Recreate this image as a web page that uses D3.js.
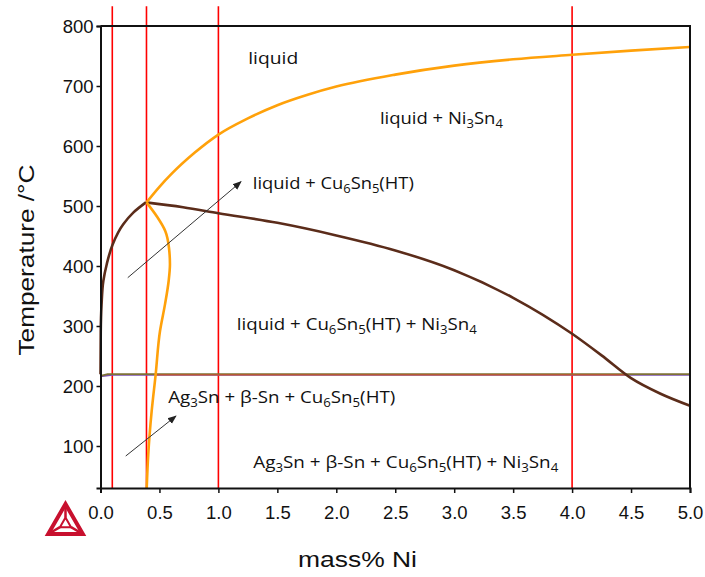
<!DOCTYPE html>
<html>
<head>
<meta charset="utf-8">
<script src="https://cdn.jsdelivr.net/npm/d3@7"></script>
<style>
  body { margin: 0; background: #fff; }
  svg { display: block; }
  .tick text { font-family: "Liberation Sans", Arial, sans-serif; font-size: 18.5px; fill: #111; }
  .region { font-family: "Open Sans", sans-serif; font-size: 17px; fill: #111; }
</style>
</head>
<body>
<div class="visHolder"></div>
<script>
// Tick values
var xTicks = [0.0, 0.5, 1.0, 1.5, 2.0, 2.5, 3.0, 3.5, 4.0, 4.5, 5.0];
var yTicks = [100, 200, 300, 400, 500, 600, 700, 800];

// Red marker lines (mass% Ni)
var redLinesX = [0.1, 0.39, 1.0, 4.0];

// Phase boundaries as [mass% Ni, T]
var niLiquidus = [[0.39, 506], [0.5, 532], [0.6, 553], [0.8, 589], [1.0, 619], [1.25, 646], [1.5, 668],
  [1.75, 685], [2.0, 699], [2.5, 719], [3.0, 734], [3.5, 744.5], [4.0, 752], [4.5, 759], [5.0, 765]];
// lower Ni3Sn4 boundary, listed from low to high T
var niSolvus = [[0.392, 30], [0.405, 86], [0.434, 158], [0.468, 219.5], [0.505, 292], [0.547, 336],
  [0.578, 375], [0.589, 403], [0.581, 430], [0.55, 458], [0.48, 482], [0.39, 506]];
var cuLiquidus = [[0.0, 219.5], [0.002, 290], [0.009, 336], [0.024, 375], [0.053, 403], [0.103, 436],
  [0.193, 469.5], [0.278, 489], [0.385, 506]];
var cuSolvus = [[0.385, 506], [0.7, 498], [1.0, 488], [1.5, 472], [2.0, 451], [2.5, 426], [3.0, 393],
  [3.5, 347], [4.0, 287], [4.25, 251], [4.5, 213], [4.75, 187], [5.0, 167]];
var eutecticOlive = [[0.0, 217], [0.06, 219.8], [5.0, 219.8]];
var eutecticPurple = [[0.0, 216], [0.1, 218.6], [5.0, 218.6]];
var eutecticRed = [[0.468, 218.6], [4.46, 218.6]];

// Region labels: text pieces, odd ones are subscripts
var labelParts = [
  ['liquid'],
  ['liquid + Ni', '3', 'Sn', '4'],
  ['liquid + Cu', '6', 'Sn', '5', '(HT)'],
  ['liquid + Cu', '6', 'Sn', '5', '(HT) + Ni', '3', 'Sn', '4'],
  ['Ag', '3', 'Sn + \u03b2-Sn + Cu', '6', 'Sn', '5', '(HT)'],
  ['Ag', '3', 'Sn + \u03b2-Sn + Cu', '6', 'Sn', '5', '(HT) + Ni', '3', 'Sn', '4']
];
// label anchor [mass% Ni, T] and width in px
var labelAt = [[1.253, 737], [2.37, 636], [1.292, 528], [1.156, 293], [0.575, 171], [1.296, 64]];
var labelWidth = [50, 123, 161, 240, 227, 305];

// Arrows [from, to] in [mass% Ni, T]
var arrows = [
  [[0.231, 380.5], [1.192, 540.5]],
  [[0.214, 83.3], [0.64, 150]]
];

var width = 705, height = 577;
var xScale = d3.scaleLinear().domain([0, 5]).range([100.5, 690]);
var yScale = d3.scaleLinear().domain([30, 800]).range([488, 26]);

var svg = d3.select('.visHolder').
append('svg').
attr('width', width).
attr('height', height);

var defs = svg.append('defs');
defs.append('marker').
attr('id', 'arrow').
attr('viewBox', '0 0 10 10').
attr('refX', 9).
attr('refY', 5).
attr('markerWidth', 9).
attr('markerHeight', 9).
attr('markerUnits', 'userSpaceOnUse').
attr('orient', 'auto').
append('path').
attr('d', 'M0,1 L10,5 L0,9 Z').
attr('fill', '#222');

var line = d3.line().
x(function (d) { return xScale(d[0]); }).
y(function (d) { return yScale(d[1]); });
var smoothX = d3.line().
x(function (d) { return xScale(d[0]); }).
y(function (d) { return yScale(d[1]); }).
curve(d3.curveMonotoneX);
var smoothY = d3.line().
x(function (d) { return xScale(d[0]); }).
y(function (d) { return yScale(d[1]); }).
curve(d3.curveMonotoneY);

// red vertical markers, reaching a bit above the frame
svg.selectAll('line.red').
data(redLinesX).
enter().
append('line').
attr('class', 'red').
attr('x1', function (d) { return xScale(d); }).
attr('x2', function (d) { return xScale(d); }).
attr('y1', yScale(833)).
attr('y2', yScale(30)).
attr('stroke', '#ff0000').
attr('stroke-width', 1.6);

// eutectic lines at ~219 C
svg.append('path').datum(eutecticPurple).attr('d', line).
attr('fill', 'none').attr('stroke', '#7b52b0').attr('stroke-width', 1.8);
svg.append('path').datum(eutecticOlive).attr('d', line).
attr('fill', 'none').attr('stroke', '#7e7236').attr('stroke-width', 1.8);
svg.append('path').datum(eutecticRed).attr('d', line).
attr('fill', 'none').attr('stroke', '#c8552e').attr('stroke-width', 1.4);

// phase boundaries
var curves = [
  { data: cuLiquidus, color: '#5b2c1a', gen: smoothY },
  { data: cuSolvus, color: '#5b2c1a', gen: smoothX },
  { data: niLiquidus, color: '#ffa10a', gen: smoothX },
  { data: niSolvus, color: '#ffa10a', gen: smoothY }
];
svg.selectAll('path.curve').
data(curves).
enter().
append('path').
attr('class', 'curve').
attr('d', function (d) { return d.gen(d.data); }).
attr('fill', 'none').
attr('stroke', function (d) { return d.color; }).
attr('stroke-width', 2.6).
attr('stroke-linejoin', 'round');

// frame
svg.append('path').
attr('d', 'M' + xScale(0) + ',' + yScale(800) + 'H' + xScale(5) + 'V' + yScale(30)).
attr('fill', 'none').
attr('stroke', '#111').
attr('stroke-width', 2);

// axes
var xAxis = d3.axisBottom(xScale).tickValues(xTicks).tickFormat(d3.format('.1f')).tickSize(5).tickPadding(13);
var yAxis = d3.axisLeft(yScale).tickValues(yTicks).tickFormat(d3.format('d')).tickSize(4).tickPadding(3);

var xAxisGroup = svg.append('g').
attr('transform', 'translate(0,' + yScale(30) + ')').
call(xAxis);
var yAxisGroup = svg.append('g').
attr('transform', 'translate(' + xScale(0) + ',0)').
call(yAxis);
[xAxisGroup, yAxisGroup].forEach(function (g) {
  g.select('.domain').attr('stroke', '#111').attr('stroke-width', 2);
  g.selectAll('.tick line').attr('stroke', '#111').attr('stroke-width', 1.5);
});
yAxisGroup.selectAll('.tick text').attr('dy', '0.35em');

// axis titles
svg.append('text').
attr('transform', 'translate(34,260) rotate(-90)').
attr('text-anchor', 'middle').
attr('textLength', 191).
attr('lengthAdjust', 'spacingAndGlyphs').
style('font-family', '"Liberation Sans", Arial, sans-serif').
style('font-size', '22px').
style('fill', '#111').
text('Temperature /\u00b0C');

svg.append('text').
attr('x', 357.5).
attr('y', 567).
attr('text-anchor', 'middle').
attr('textLength', 119).
attr('lengthAdjust', 'spacingAndGlyphs').
style('font-family', '"Liberation Sans", Arial, sans-serif').
style('font-size', '22px').
style('fill', '#111').
text('mass% Ni');

// region labels
labelParts.forEach(function (parts, i) {
  var t = svg.append('text').
  attr('class', 'region').
  attr('x', xScale(labelAt[i][0])).
  attr('y', yScale(labelAt[i][1])).
  attr('textLength', labelWidth[i]).
  attr('lengthAdjust', 'spacingAndGlyphs');
  parts.forEach(function (p, j) {
    var sub = j % 2 === 1;
    t.append('tspan').
    attr('dy', j === 0 ? 0 : (sub ? 4 : -4)).
    style('font-size', sub ? '12px' : '17px').
    text(p);
  });
});

// arrows
svg.selectAll('line.arrow').
data(arrows).
enter().
append('line').
attr('class', 'arrow').
attr('x1', function (d) { return xScale(d[0][0]); }).
attr('y1', function (d) { return yScale(d[0][1]); }).
attr('x2', function (d) { return xScale(d[1][0]); }).
attr('y2', function (d) { return yScale(d[1][1]); }).
attr('stroke', '#333').
attr('stroke-width', 1).
attr('marker-end', 'url(#arrow)');

// logo
var logo = svg.append('g').attr('transform', 'translate(65.5,524)');
var r = 20;
var pts = [-90, 150, 30].map(function (a) {
  return [r * Math.cos(a * Math.PI / 180), r * Math.sin(a * Math.PI / 180)];
});
logo.append('path').
attr('d', 'M' + pts.join('L') + 'Z').
attr('fill', 'none').
attr('stroke', '#c8102e').
attr('stroke-width', 4).
attr('stroke-linejoin', 'miter');
var inner = pts.map(function (p) { return [p[0] * 0.32, p[1] * 0.32]; });
logo.append('path').
attr('d', 'M' + inner.join('L') + 'Z').
attr('fill', 'none').
attr('stroke', '#c8102e').
attr('stroke-width', 2);
pts.forEach(function (p, i) {
  logo.append('line').
  attr('x1', p[0] * 0.85).attr('y1', p[1] * 0.85).
  attr('x2', inner[i][0]).attr('y2', inner[i][1]).
  attr('stroke', '#c8102e').
  attr('stroke-width', 2.5);
});
</script>
</body>
</html>
